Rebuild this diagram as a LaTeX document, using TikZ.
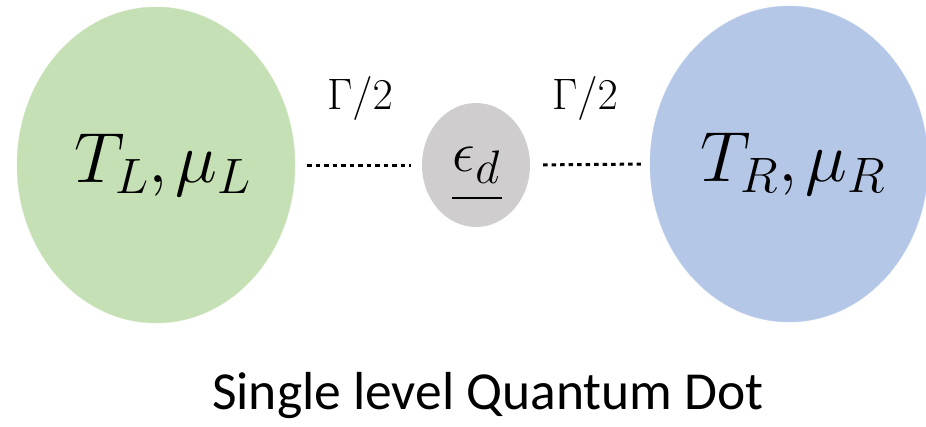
\documentclass[tikz,border=0pt]{standalone}
\usepackage{fix-cm}
\usepackage{fontspec}
\newfontfamily\titlefont{Carlito}
\usetikzlibrary{shapes.geometric}
\definecolor{leadgreen}{HTML}{C5E0B4}
\definecolor{leadblue}{HTML}{B4C7E7}
\definecolor{dotgray}{HTML}{CFCDCD}
\tikzset{
  reservoir/.style={ellipse, inner sep=0pt, minimum width=278pt, minimum height=316pt},
  coupling/.style={line width=3pt, dash pattern=on 4.5pt off 4pt},
  biglabel/.style={font=\fontsize{71}{74}\selectfont},
}
\begin{document}
\begin{tikzpicture}[x=1pt,y=-1pt]
\useasboundingbox (0,0) rectangle (926,426);
\node[reservoir, fill=leadgreen, draw=leadgreen!85!white, biglabel] (left) at (156,165) {\raisebox{11pt}{\hspace*{14pt}$T_L{,}\mkern2mu\mu_L$}};
\node[reservoir, fill=leadblue, draw=leadblue!85!white, biglabel] (right) at (789,164) {\raisebox{11pt}{\hspace*{8pt}$T_R{,}\mkern2mu\mu_R$}};
\node[ellipse, inner sep=0pt, minimum width=108pt, minimum height=124pt, fill=dotgray] (dot) at (476,165) {\raisebox{6pt}{\fontsize{57}{60}\selectfont $\epsilon\raisebox{-12pt}{\fontsize{47}{50}\selectfont $d$}$}};
\draw[line width=2.5pt] ([xshift=-24pt,yshift=-33pt]dot.center) -- ([xshift=26pt,yshift=-33pt]dot.center);
\draw[coupling, shorten <=12pt, shorten >=11pt] (left.east) -- (dot.west);
\draw[coupling, shorten <=13pt, shorten >=9pt] (dot.east) -- (right.west);
\node (g1) at (360,98) {\fontsize{44}{46}\selectfont $\Gamma/2$};
\node (g2) at (585,98) {\fontsize{44}{46}\selectfont $\Gamma/2$};
\node (title) at (488,396) {\titlefont\fontsize{53.5}{56}\selectfont Single level Quantum Dot};
\end{tikzpicture}
\end{document}
